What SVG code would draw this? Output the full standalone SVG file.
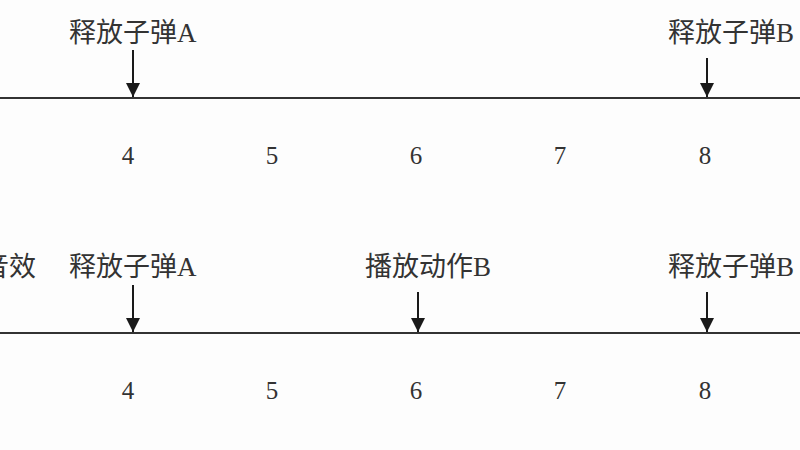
<svg xmlns="http://www.w3.org/2000/svg" width="800" height="450" viewBox="0 0 800 450">
<defs>
<marker id="ah" viewBox="0 0 14 14" markerWidth="14" markerHeight="14" refX="14" refY="7" orient="auto" markerUnits="userSpaceOnUse">
<path d="M0,0 L14,7 L0,14 Z" fill="#1a1a1a"/>
</marker>
</defs>
<style>
.lbl{font-family:"Liberation Serif","Noto Sans CJK SC",serif;font-size:27px;fill:#333}
.num{font-family:"Liberation Serif","Noto Sans CJK SC",serif;font-size:25px;fill:#333;text-anchor:middle}
.axis{stroke:#333;stroke-width:2}
.arr{stroke:#1a1a1a;stroke-width:2;fill:none;marker-end:url(#ah)}
</style>
<rect width="800" height="450" fill="#fdfdfd"/>
<g id="timeline-top">
<line class="axis" x1="0" y1="98" x2="800" y2="98"/>
<text class="num" x="128" y="164">4</text>
<text class="num" x="272" y="164">5</text>
<text class="num" x="416" y="164">6</text>
<text class="num" x="560" y="164">7</text>
<text class="num" x="705" y="164">8</text>
</g>
<g id="label-top-a"><text class="lbl" x="69" y="42">释放子弹A</text></g>
<g id="label-top-b"><text class="lbl" x="668" y="42">释放子弹B</text></g>
<g id="timeline-bottom">
<line class="axis" x1="0" y1="333" x2="800" y2="333"/>
<text class="num" x="128" y="399">4</text>
<text class="num" x="272" y="399">5</text>
<text class="num" x="416" y="399">6</text>
<text class="num" x="560" y="399">7</text>
<text class="num" x="705" y="399">8</text>
</g>
<g id="label-bottom-sfx"><text class="lbl" x="36" y="276" text-anchor="end">音效</text></g>
<g id="label-bottom-a"><text class="lbl" x="69" y="276">释放子弹A</text></g>
<g id="label-bottom-action"><text class="lbl" x="365" y="276">播放动作B</text></g>
<g id="label-bottom-b"><text class="lbl" x="668" y="276">释放子弹B</text></g>
<g id="connectors">
<line class="arr" x1="133" y1="50" x2="133" y2="97"/>
<line class="arr" x1="707" y1="58" x2="707" y2="97"/>
<line class="arr" x1="133" y1="285" x2="133" y2="332"/>
<line class="arr" x1="418" y1="292" x2="418" y2="332"/>
<line class="arr" x1="707" y1="292" x2="707" y2="332"/>
</g>
</svg>
